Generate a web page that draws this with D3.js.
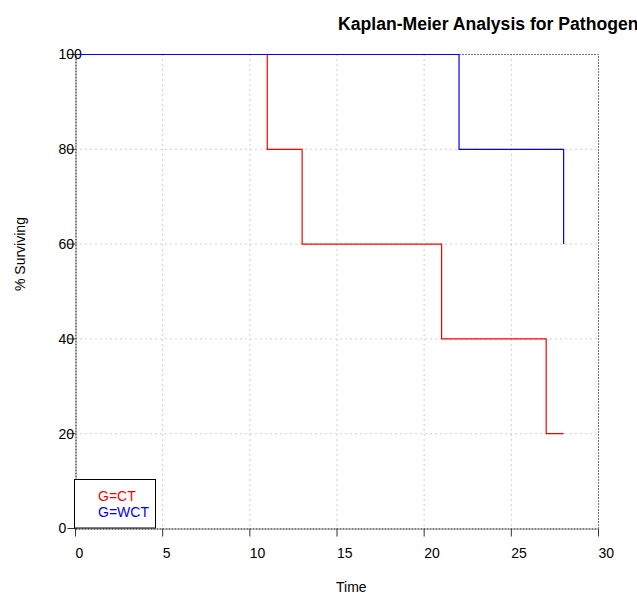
<!DOCTYPE html>
<html>
<head>
<meta charset="utf-8">
<script src="https://cdn.jsdelivr.net/npm/d3@7"></script>
<style>
  body { margin: 0; background: #fff; }
  svg { display: block; }
  text { font-family: "Liberation Sans", Arial, sans-serif; fill: #000; }
</style>
</head>
<body>
<div id="chart"></div>
<script>
// survival steps per group (time, % surviving)
const ctTimes = [0, 11, 13, 21, 27, 28];
const ctSurv = [100, 80, 60, 40, 20, 20];
const wctTimes = [0, 22, 28];
const wctSurv = [100, 80, 60];

const xTicks = [0, 5, 10, 15, 20, 25, 30];
const yTicks = [0, 20, 40, 60, 80, 100];

const groups = [
  { name: 'G=CT', times: ctTimes, surv: ctSurv, color: '#ff0000' },
  { name: 'G=WCT', times: wctTimes, surv: wctSurv, color: '#0000ff' }
];

const width = 637;
const height = 595;
const plot = { left: 75, right: 598, top: 54, bottom: 528 };

const svg = d3.select('#chart')
  .append('svg')
  .attr('width', width)
  .attr('height', height);

const x = d3.scaleLinear().domain([0, 30]).range([plot.left, plot.right]);
const y = d3.scaleLinear().domain([0, 100]).range([plot.bottom, plot.top]);

// grid
const grid = svg.append('g')
  .attr('stroke', '#d0d0d0')
  .attr('stroke-dasharray', '2,3')
  .attr('stroke-width', 1);

grid.selectAll('line.gx')
  .data(xTicks.filter(d => d > 0 && d < 30))
  .join('line')
  .attr('class', 'gx')
  .attr('x1', d => x(d) + 0.5).attr('x2', d => x(d) + 0.5)
  .attr('y1', plot.top).attr('y2', plot.bottom);

grid.selectAll('line.gy')
  .data(yTicks.filter(d => d > 0 && d < 100))
  .join('line')
  .attr('class', 'gy')
  .attr('x1', plot.left).attr('x2', plot.right)
  .attr('y1', d => y(d) + 0.5).attr('y2', d => y(d) + 0.5);

// top and right frame
svg.append('path')
  .attr('d', `M${plot.left},${plot.top + 0.5}H${plot.right + 0.5}V${plot.bottom}`)
  .attr('fill', 'none')
  .attr('stroke', '#777')
  .attr('stroke-dasharray', '2,1');

// x axis
const xAxis = svg.append('g')
  .attr('transform', `translate(0,${plot.bottom + 0.5})`)
  .call(d3.axisBottom(x).tickValues(xTicks).tickSize(8).tickPadding(12).tickSizeOuter(0));
xAxis.select('.domain').attr('stroke-dasharray', '2,1');
xAxis.selectAll('.tick line').attr('stroke', '#333');
xAxis.selectAll('.tick text')
  .attr('text-anchor', 'start')
  .style('font-size', '14px')
  .style('font-family', '"Liberation Sans", Arial, sans-serif');

// y axis
const yAxis = svg.append('g')
  .attr('transform', `translate(${plot.left + 0.5},0)`)
  .call(d3.axisLeft(y).tickValues(yTicks).tickSize(8).tickSizeOuter(0));
yAxis.select('.domain').attr('stroke-dasharray', '2,1');
yAxis.selectAll('.tick line').attr('stroke', '#333');
yAxis.selectAll('.tick text')
  .attr('text-anchor', 'start')
  .attr('x', -17)
  .attr('dy', '0.35em')
  .style('font-size', '14px')
  .style('font-family', '"Liberation Sans", Arial, sans-serif');

// survival curves
const line = d3.line()
  .x(d => x(d[0]))
  .y(d => y(d[1]))
  .curve(d3.curveStepAfter);

svg.append('g')
  .selectAll('path')
  .data(groups)
  .join('path')
  .attr('d', g => line(g.times.map((t, i) => [t, g.surv[i]])))
  .attr('fill', 'none')
  .attr('stroke', g => g.color)
  .attr('stroke-width', 1.2)
  .attr('transform', 'translate(0.5,0.5)');

// legend
const legend = svg.append('g');
legend.append('rect')
  .attr('x', plot.left - 0.5)
  .attr('y', 479.5)
  .attr('width', 81)
  .attr('height', plot.bottom - 479.5)
  .attr('fill', '#fff')
  .attr('stroke', '#000');

legend.selectAll('text')
  .data(groups)
  .join('text')
  .attr('x', 98)
  .attr('y', (d, i) => 501 + i * 16)
  .style('font-size', '14px')
  .style('fill', d => d.color)
  .text(d => d.name);

// titles
svg.append('text')
  .attr('x', 338)
  .attr('y', 30)
  .style('font-size', '17.6px')
  .style('font-weight', 'bold')
  .text('Kaplan-Meier Analysis for Pathogen');

svg.append('text')
  .attr('x', 336)
  .attr('y', 592)
  .style('font-size', '14px')
  .text('Time');

svg.append('text')
  .attr('transform', `translate(25,${(plot.top + plot.bottom) / 2}) rotate(-90)`)
  .style('font-size', '14px')
  .text('% Surviving');
</script>
</body>
</html>
